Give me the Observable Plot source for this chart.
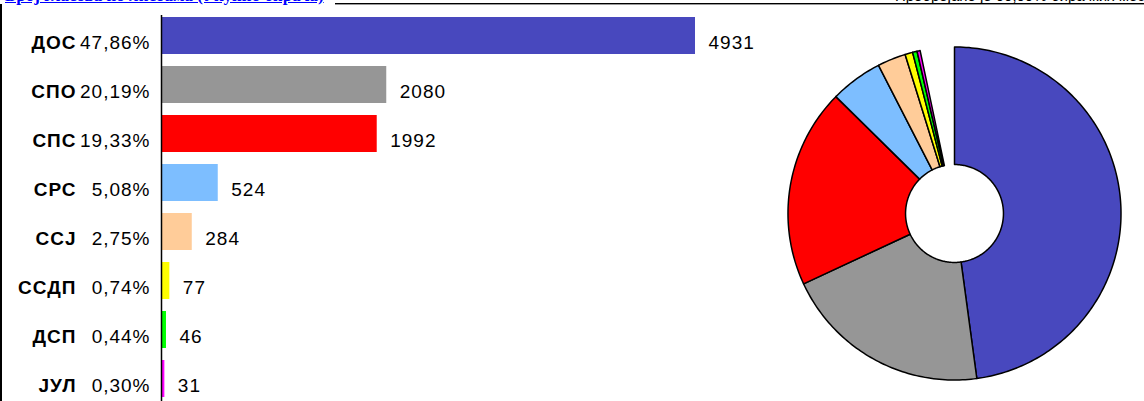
<!DOCTYPE html>
<html><head><meta charset="utf-8">
<script src="https://cdn.jsdelivr.net/npm/d3@7"></script>
<script src="https://cdn.jsdelivr.net/npm/@observablehq/plot@0.6"></script>
<style>
body{margin:0;width:1144px;height:401px;overflow:hidden;position:relative;background:#fff;font-family:"Liberation Sans",Arial,sans-serif;}
#title{position:absolute;left:5px;top:-14px;font:bold 17px "Liberation Serif",serif;color:#0000ff;text-decoration:underline;white-space:nowrap;}
#note{position:absolute;left:895px;top:-13px;font:15px "Liberation Sans",sans-serif;white-space:nowrap;color:#000}
#topline{position:absolute;left:335px;right:0;top:3px;height:0;border-top:1px solid #000;border-bottom:1px solid #999}
#leftline{position:absolute;left:0;top:4px;bottom:0;width:0;border-left:2px solid #000;}
#bars{position:absolute;left:0;top:0}
#pie{position:absolute;left:774px;top:33px}
svg text{letter-spacing:1px}
#bars g[aria-label="y-axis tick label"] text{font-weight:bold}
</style></head><body>
<div id="topline"></div>
<div id="leftline"></div>
<div id="title">Број гласова по листама (Укупно бирача)</div>
<div id="note">Пребројано је 99,99% бирачких места</div>
<div id="bars"></div>
<div id="pie"></div>
<script>
const parties = ["ДОС","СПО","СПС","СРС","ССЈ","ССДП","ДСП","ЈУЛ"];
const votes = [4931,2080,1992,524,284,77,46,31];
const percentLabels = ["47,86%","20,19%","19,33%","5,08%","2,75%","0,74%","0,44%","0,30%"];
const shares = [47.86,20.19,19.33,5.08,2.75,0.74,0.44,0.30];
const colors = ["#4848BE","#969696","#FF0000","#7DBEFF","#FFCC99","#FFFF00","#00FF00","#FF00FF"];

const data = parties.map((p,i)=>({party:p, votes:votes[i], pct:percentLabels[i], share:shares[i], color:colors[i]}));

const font = {fontFamily:"'Liberation Sans', Arial, sans-serif", fontSize:"19px", color:"black", background:"transparent", overflow:"visible"};
const textShift = 7;

const bars = Plot.plot({
  width:760, height:403, marginLeft:161, marginRight:65, marginTop:10, marginBottom:0,
  style: font,
  x:{domain:[0, d3.max(votes)], axis:null},
  y:{domain:parties, paddingInner:0.25, paddingOuter:0.125, axis:null},
  color:{type:"identity"},
  marks:[
    Plot.barX(data,{y:"party", x:"votes", fill:"color"}),
    Plot.ruleX([0],{insetTop:5, stroke:"black", strokeWidth:1.5}),
    Plot.text(data,{y:"party", x:"votes", text:d=>String(d.votes), textAnchor:"start", dx:13, dy:textShift, fill:"black"}),
    Plot.text(data,{y:"party", text:"pct", frameAnchor:"left", textAnchor:"end", dx:-11, dy:textShift, fill:"black"}),
    Plot.axisY({tickSize:0, tickPadding:85, label:null, fontWeight:"bold", dy:textShift})
  ]
});
document.getElementById("bars").append(bars);

// donut slices as annular sectors
const R = 1, r0 = 0.294;
let acc = 0;
const slices = data.map(d=>{
  const a0 = acc/100*2*Math.PI; acc += d.share; const a1 = acc/100*2*Math.PI;
  const n = Math.max(2, Math.ceil((a1-a0)/(Math.PI/180)));
  const pts = [];
  for(let k=0;k<=n;k++){const a=a0+(a1-a0)*k/n; pts.push({x:R*Math.sin(a), y:R*Math.cos(a)});}
  for(let k=n;k>=0;k--){const a=a0+(a1-a0)*k/n; pts.push({x:r0*Math.sin(a), y:r0*Math.cos(a)});}
  pts.push(pts[0]);
  return {color:d.color, pts};
});
const dom = [-1.081, 1.081];
const pie = Plot.plot({
  width:360, height:360, margin:0,
  style:{background:"transparent", overflow:"visible"},
  x:{domain:dom, axis:null}, y:{domain:dom, axis:null},
  marks: slices.map(s=>Plot.line(s.pts,{x:"x", y:"y", fill:s.color, stroke:"black", strokeWidth:1.5, strokeLinejoin:"round"}))
});
document.getElementById("pie").append(pie);
</script>
</body></html>
